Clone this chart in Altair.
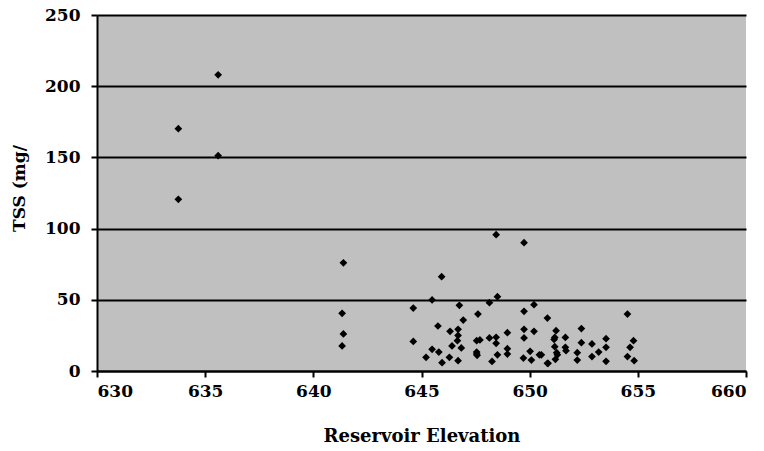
import altair as alt
import pandas as pd

elev = [633.76, 633.76, 635.6, 635.6,
        641.39, 641.33, 641.39, 641.33,
        648.45, 649.74, 645.93, 645.49, 648.51, 648.14, 644.62, 646.75, 650.2,
        647.61, 649.74, 650.82, 646.93, 645.76, 646.32, 646.69, 646.69, 649.74,
        650.2, 648.97, 644.62, 646.66, 647.55, 648.14, 648.45, 648.45, 649.74,
        646.41, 646.84, 645.49, 645.8, 647.55, 648.97, 648.97, 645.21, 646.29,
        645.95, 646.69, 648.26, 648.51, 647.55, 649.71, 650.08, 650.45, 650.85,
        650.02, 651.22, 651.16, 651.65, 651.65, 651.16, 651.25, 651.19, 650.82,
        650.54, 652.39, 652.39, 652.2, 652.2, 652.88, 652.88, 653.19, 653.53,
        653.53, 653.53, 654.52, 654.8, 654.64, 654.52, 654.83, 651.13, 651.68,
        651.28, 647.7, 647.57]
tss = [170.2, 120.6, 208.0, 151.2,
       76.0, 40.5, 26.0, 17.6,
       95.7, 90.1, 66.2, 49.9, 52.2, 48.0, 44.2, 46.1, 46.6,
       40.0, 41.9, 37.2, 35.8, 31.6, 27.9, 29.3, 25.0, 29.3,
       27.9, 26.9, 20.8, 21.3, 21.3, 23.2, 23.7, 19.4, 23.2,
       17.6, 16.2, 15.2, 13.3, 13.3, 15.7, 11.9, 9.6, 9.6,
       5.8, 7.2, 6.7, 11.4, 11.9, 9.1, 7.7, 11.4, 5.4,
       13.8, 28.3, 23.6, 23.6, 16.6, 17.1, 12.9, 8.2, 5.4,
       11.4, 29.8, 19.9, 12.9, 7.7, 19.0, 10.1, 13.3, 22.7,
       16.6, 6.8, 40.0, 21.3, 16.6, 10.1, 7.2, 22.2, 14.3,
       11.4, 21.8, 11.0]

df = pd.DataFrame({"elev": elev, "tss": tss})

FONT = "DejaVu Serif"

chart = alt.Chart(df).mark_point(
    shape="diamond", filled=True, color="black", size=60, opacity=1
).encode(
    x=alt.X("elev:Q", scale=alt.Scale(domain=[630, 660], nice=False, zero=False),
            axis=alt.Axis(title="Reservoir Elevation", values=[630, 635, 640, 645, 650, 655, 660],
                          grid=False, labelPadding=6, titlePadding=28,
                          titleFontSize=18)),
    y=alt.Y("tss:Q", scale=alt.Scale(domain=[0, 250], nice=False),
            axis=alt.Axis(title="TSS (mg/", values=[0, 50, 100, 150, 200, 250],
                          grid=True, labelPadding=11, titleFontSize=17,
                          titleX=-78, titleY=173,
                          titleAlign="center", titleBaseline="middle")),
).properties(
    width=649, height=356,
    autosize=alt.AutoSizeParams(type="none"),
    padding={"left": 97, "top": 15, "right": 18, "bottom": 80},
).configure(
    background="white",
    view=alt.ViewConfig(fill="#C0C0C0", stroke=None),
).configure_axis(
    labelFont=FONT, labelFontWeight="bold", labelFontSize=17, labelColor="black",
    titleFont=FONT, titleFontWeight="bold", titleColor="black",
    gridColor="black", gridWidth=2, gridOpacity=1,
    domainColor="black", domainWidth=2,
    tickColor="black", tickWidth=2, tickSize=6,
)

chart.save("out.html", embed_options={"renderer": "svg", "actions": False})
